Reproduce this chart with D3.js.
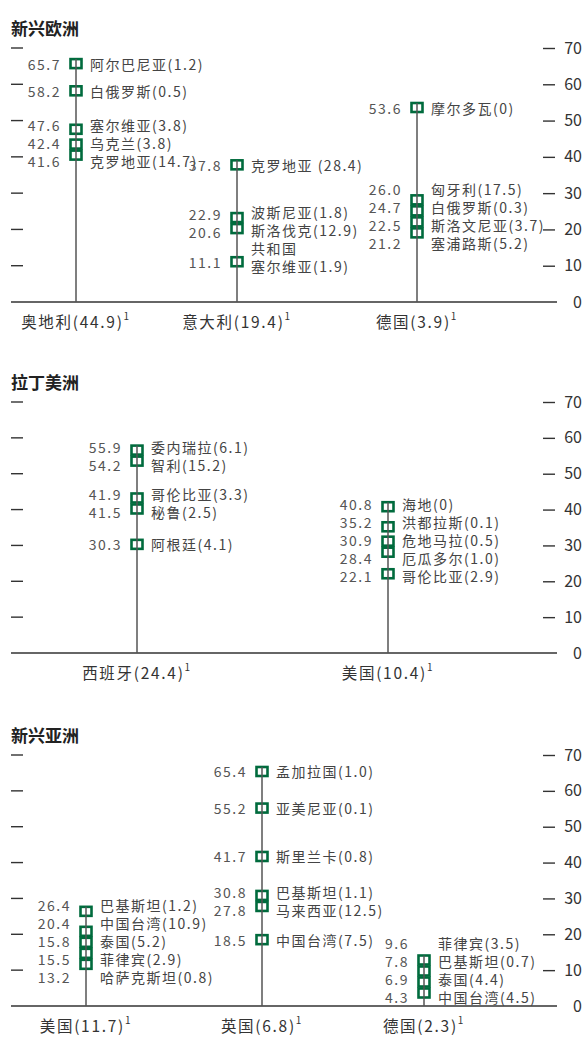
<!DOCTYPE html>
<html>
<head>
<meta charset="utf-8">
<script src="https://cdn.jsdelivr.net/npm/d3@7"></script>
<style>
  body { margin: 0; background: #fff; }
  text { font-family: "Noto Sans CJK SC", "Noto Sans", sans-serif; }
</style>
</head>
<body>
<svg id="chart"></svg>
<script>

const regions = ["新兴欧洲", "拉丁美洲", "新兴亚洲"];
const tickValues = [0, 10, 20, 30, 40, 50, 60, 70];

// 新兴欧洲
const europeSources = ["奥地利(44.9)", "意大利(19.4)", "德国(3.9)"];
const europeNames = [
    ["阿尔巴尼亚(1.2)", "白俄罗斯(0.5)", "塞尔维亚(3.8)", "乌克兰(3.8)", "克罗地亚(14.7)"],
    ["克罗地亚 (28.4)", "波斯尼亚(1.8)", "斯洛伐克(12.9)\n共和国", "塞尔维亚(1.9)"],
    ["摩尔多瓦(0)", "匈牙利(17.5)", "白俄罗斯(0.3)", "斯洛文尼亚(3.7)", "塞浦路斯(5.2)"]
];
const europeValues = [
    [65.7, 58.2, 47.6, 42.4, 41.6],
    [37.8, 22.9, 20.6, 11.1],
    [53.6, 26.0, 24.7, 22.5, 21.2]
];

// 拉丁美洲
const latamSources = ["西班牙(24.4)", "美国(10.4)"];
const latamNames = [
    ["委内瑞拉(6.1)", "智利(15.2)", "哥伦比亚(3.3)", "秘鲁(2.5)", "阿根廷(4.1)"],
    ["海地(0)", "洪都拉斯(0.1)", "危地马拉(0.5)", "厄瓜多尔(1.0)", "哥伦比亚(2.9)"]
];
const latamValues = [
    [55.9, 54.2, 41.9, 41.5, 30.3],
    [40.8, 35.2, 30.9, 28.4, 22.1]
];

// 新兴亚洲
const asiaSources = ["美国(11.7)", "英国(6.8)", "德国(2.3)"];
const asiaNames = [
    ["巴基斯坦(1.2)", "中国台湾(10.9)", "泰国(5.2)", "菲律宾(2.9)", "哈萨克斯坦(0.8)"],
    ["孟加拉国(1.0)", "亚美尼亚(0.1)", "斯里兰卡(0.8)", "巴基斯坦(1.1)", "马来西亚(12.5)", "中国台湾(7.5)"],
    ["菲律宾(3.5)", "巴基斯坦(0.7)", "泰国(4.4)", "中国台湾(4.5)"]
];
const asiaValues = [
    [26.4, 20.4, 15.8, 15.5, 13.2],
    [65.4, 55.2, 41.7, 30.8, 27.8, 18.5],
    [9.6, 7.8, 6.9, 4.3]
];

const panels = [
    {sources: europeSources, names: europeNames, values: europeValues},
    {sources: latamSources, names: latamNames, values: latamValues},
    {sources: asiaSources, names: asiaNames, values: asiaValues}
];

// layout of the three panels
const width = 586, height = 1037;
const layout = [
    {base: 302, top: 48, xs: [76, 237, 417]},
    {base: 653, top: 402, xs: [137, 388]},
    {base: 1006, top: 755, xs: [86, 262, 424]}
];
const green = "#006b3d";
const markW = 11, markH = 9;
const markGap = 11, labelGap = 18;

const svg = d3.select("#chart")
    .attr("width", width)
    .attr("height", height);


// Spread items apart: ys sorted top-down, sizes = slot height of each item
function dodge(ys, sizes, hi) {
    let clusters = [];
    let out = [];

    function place(c) {
        c.start = d3.mean(c.nat, (n, k) => n - c.offs[k]);
        c.start = Math.min(c.start, hi - c.offs[c.offs.length - 1]);
    }

    ys.forEach((y, i) => {
        let c = {idx: [i], offs: [0], nat: [y], len: sizes[i]};
        place(c);
        clusters.push(c);
        while (clusters.length > 1) {
            let b = clusters[clusters.length - 1];
            let a = clusters[clusters.length - 2];
            if (a.start + a.len <= b.start) break;
            b.idx.forEach((j, k) => {
                a.idx.push(j);
                a.offs.push(a.len + b.offs[k]);
                a.nat.push(b.nat[k]);
            });
            a.len += b.len;
            place(a);
            clusters.pop();
        }
    });

    clusters.forEach(c => c.idx.forEach((j, k) => out[j] = c.start + c.offs[k]));
    return out;
}


panels.forEach((panel, p) => {
    let lay = layout[p];
    let y = d3.scaleLinear().domain([0, 70]).range([lay.base, lay.top]);
    let x = d3.scaleOrdinal(panel.sources, lay.xs);
    let g = svg.append("g");

    // Title
    g.append("text")
        .attr("x", 11)
        .attr("y", lay.top - 21)
        .attr("dominant-baseline", "central")
        .attr("font-size", 17)
        .attr("font-weight", "bold")
        .attr("fill", "#222")
        .text(regions[p]);

    // Left ticks (no labels)
    g.selectAll(".ltick")
        .data(tickValues.filter(d => d > 0))
        .join("line")
        .attr("x1", 11).attr("x2", 23)
        .attr("y1", d => y(d)).attr("y2", d => y(d))
        .attr("stroke", "#333")
        .attr("stroke-width", 1.4);

    // Right axis
    let axis = d3.axisRight(y)
        .tickValues(tickValues)
        .tickSize(0)
        .tickPadding(0)
        .tickFormat(d3.format("d"));
    let ax = g.append("g")
        .attr("transform", "translate(543,0)")
        .call(axis);
    ax.select(".domain").remove();
    ax.selectAll(".tick").filter(d => d > 0).append("line")
        .attr("x1", 0).attr("x2", 12)
        .attr("stroke", "#333")
        .attr("stroke-width", 1.4);
    ax.selectAll(".tick text")
        .attr("x", 39)
        .attr("text-anchor", "end")
        .attr("font-size", 16)
        .attr("fill", "#333")
        .attr("font-family", "'Noto Sans CJK SC', sans-serif");

    // Base line
    g.append("line")
        .attr("x1", 11).attr("x2", 557)
        .attr("y1", y(0)).attr("y2", y(0))
        .attr("stroke", "#333")
        .attr("stroke-width", 1.5);

    panel.sources.forEach((src, s) => {
        let vals = panel.values[s];
        let names = panel.names[s];
        let cx = x(src);
        let natural = vals.map(v => y(v));

        let markY = dodge(natural, vals.map(() => markGap), y(0) - 13);
        let valY = dodge(natural, vals.map(() => labelGap), y(0) - 9);
        let lines = names.map(n => n.split("\n"));
        let nameY = dodge(natural, lines.map(l => l.length * labelGap), y(0) - 9);

        // Markers
        g.selectAll(null)
            .data(vals)
            .join("rect")
            .attr("x", cx - markW / 2)
            .attr("y", (d, i) => markY[i] - markH / 2)
            .attr("width", markW)
            .attr("height", markH)
            .attr("fill", "#fff")
            .attr("stroke", green)
            .attr("stroke-width", 2.6);

        // Stem
        g.append("line")
            .attr("x1", cx).attr("x2", cx)
            .attr("y1", d3.min(markY) - markH / 2)
            .attr("y2", y(0))
            .attr("stroke", "#555")
            .attr("stroke-width", 1.5);

        // Value labels
        g.selectAll(null)
            .data(vals)
            .join("text")
            .attr("x", cx - 15)
            .attr("y", (d, i) => valY[i])
            .attr("text-anchor", "end")
            .attr("dominant-baseline", "central")
            .attr("font-size", 14)
            .attr("letter-spacing", 1.5)
            .attr("fill", "#555")
            .text(d => d3.format(".1f")(d));

        // Country labels
        lines.forEach((ls, i) => {
            ls.forEach((l, k) => {
                g.append("text")
                    .attr("x", cx + 14)
                    .attr("y", nameY[i] + k * labelGap)
                    .attr("dominant-baseline", "central")
                    .attr("font-size", 14)
                    .attr("letter-spacing", 1.5)
                    .attr("fill", "#444")
                    .text(l);
            });
        });

        // Source label under axis
        let t = g.append("text")
            .attr("x", cx)
            .attr("y", y(0) + 19)
            .attr("text-anchor", "middle")
            .attr("dominant-baseline", "central")
            .attr("font-size", 15.5)
            .attr("letter-spacing", 1.7)
            .attr("fill", "#333");
        t.append("tspan").text(src);
        t.append("tspan")
            .attr("font-size", 10)
            .attr("dy", -6)
            .text("1");
    });
});

</script>
</body>
</html>
